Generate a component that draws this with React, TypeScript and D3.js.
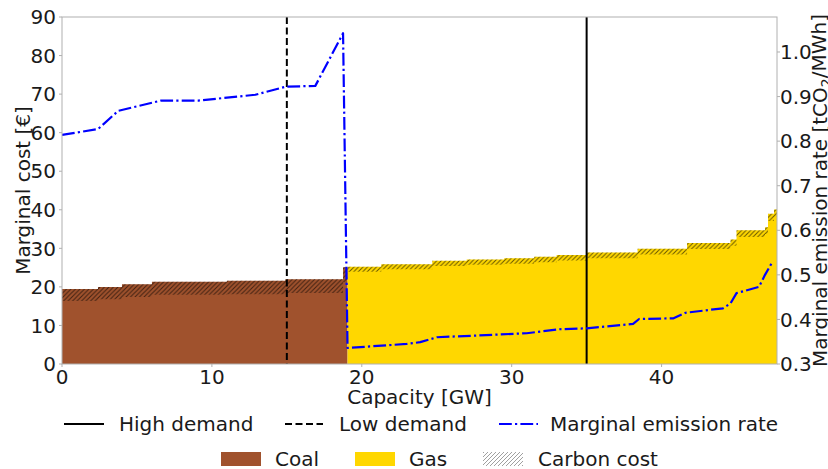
import React from "react";
import * as d3 from "d3";

// ---- Data ----
const coalStart = [0, 2.4, 4.0, 6.0, 11.0, 14.9, 18.75];
const coalEnd = 19.05;
const coalCost = [19.45, 20.0, 20.7, 21.35, 21.6, 22.0, 25.1];
const coalCarbon = [3.1, 3.2, 3.3, 3.4, 3.5, 3.6, 3.9];

const gasStart = [19.05, 21.3, 24.7, 27.0, 29.5, 31.5, 33.0, 35.0, 38.4, 41.7, 44.6, 45.0, 46.9, 47.1, 47.5];
const gasEnd = 47.7;
const gasCost = [25.2, 25.9, 26.8, 27.1, 27.4, 27.8, 28.3, 28.9, 29.9, 31.4, 32.3, 34.7, 35.5, 39.0, 40.1];
const gasCarbon = [1.3, 1.3, 1.35, 1.38, 1.38, 1.4, 1.43, 1.45, 1.52, 1.58, 1.65, 1.75, 1.8, 1.9, 2.0];

const merCapacity = [0, 2.4, 3.75, 6.6, 9.1, 12.9, 14.9, 16.9, 18.75, 19.05, 23.0, 23.9, 25.0, 27.4, 31.0, 33.2, 35.0, 38.1, 38.5, 40.8, 41.6, 44.1, 44.6, 45.0, 46.5, 46.9, 47.4];
const merValue = [0.814, 0.827, 0.868, 0.891, 0.891, 0.904, 0.922, 0.924, 1.042, 0.336, 0.345, 0.349, 0.36, 0.3635, 0.369, 0.378, 0.38, 0.39, 0.401, 0.4025, 0.415, 0.425, 0.436, 0.459, 0.473, 0.5, 0.5295];

const lowDemand = 15;
const highDemand = 35;

const xTicks = [0, 10, 20, 30, 40];
const yTicks = [0, 10, 20, 30, 40, 50, 60, 70, 80, 90];
const y2Ticks = [0.3, 0.4, 0.5, 0.6, 0.7, 0.8, 0.9, 1.0];

const COAL = "#A0522D";
const GAS = "#FFD700";
const BLUE = "#0000FF";
const TEXT = "#1a1a1a";
const SPINE = "#b0b0b0";
const FONT = "DejaVu Sans, sans-serif";

type Pt = { c: number; top: number; low: number };

export default function App() {
  const W = 828, H = 469;
  const L = 62, R = 777, T = 17, B = 364;
  const x = d3.scaleLinear().domain([0, 47.7]).range([L, R]);
  const y = d3.scaleLinear().domain([0, 90]).range([B, T]);
  const y2 = d3.scaleLinear().domain([0.3, 1.0785]).range([B, T]);

  const pts = (starts: number[], end: number, cost: number[], carbon: number[]): Pt[] => {
    const p = starts.map((s, i) => ({ c: s, top: cost[i], low: cost[i] - carbon[i] }));
    const last = p[p.length - 1];
    p.push({ c: end, top: last.top, low: last.low });
    return p;
  };

  const fillArea = d3.area<Pt>().x((d) => x(d.c)).y0(B).y1((d) => y(d.top)).curve(d3.curveStepAfter);
  const bandArea = d3.area<Pt>().x((d) => x(d.c)).y0((d) => y(d.low)).y1((d) => y(d.top)).curve(d3.curveStepAfter);

  const coalPts = pts(coalStart, coalEnd, coalCost, coalCarbon);
  const gasPts = pts(gasStart, gasEnd, gasCost, gasCarbon);

  const line = d3.line<number>().x((_, i) => x(merCapacity[i])).y((v) => y2(v));
  const merPath = line(merValue) || "";

  const fs = 20;
  const row1 = 424, row2 = 459;

  return (
    <svg width={W} height={H} style={{ position: "absolute", left: 0, top: 0 }} fontFamily={FONT}>
      <defs>
        <pattern id="hatch" patternUnits="userSpaceOnUse" width="4.5" height="4.5">
          <path d="M-1,1 l2,-2 M0,4.5 l4.5,-4.5 M3.5,5.5 l2,-2" stroke="#000" strokeOpacity="0.6" strokeWidth="1" />
        </pattern>
        <pattern id="hatchLegend" patternUnits="userSpaceOnUse" width="4" height="4">
          <path d="M-1,1 l2,-2 M0,4 l4,-4 M3,5 l2,-2" stroke="#888" strokeWidth="0.8" />
        </pattern>
        <clipPath id="plot">
          <rect x={L} y={T} width={R - L} height={B - T} />
        </clipPath>
      </defs>
      <rect x={0} y={0} width={W} height={H} fill="#fff" />

      <g clipPath="url(#plot)">
        <path d={fillArea(coalPts) || ""} fill={COAL} />
        <path d={bandArea(coalPts) || ""} fill="url(#hatch)" />
        <path d={fillArea(gasPts) || ""} fill={GAS} />
        <path d={bandArea(gasPts) || ""} fill="url(#hatch)" />
        <line x1={x(lowDemand)} x2={x(lowDemand)} y1={T} y2={B} stroke="#000" strokeWidth={2} strokeDasharray="7,3.5" />
        <line x1={x(highDemand)} x2={x(highDemand)} y1={T} y2={B} stroke="#000" strokeWidth={2} />
        <path d={merPath} fill="none" stroke={BLUE} strokeWidth={2.2} strokeDasharray="12.8,3.2,2.2,3.2" strokeLinejoin="round" />
      </g>

      {/* spines */}
      <rect x={L} y={T} width={R - L} height={B - T} fill="none" stroke={SPINE} strokeWidth={1} />

      {/* left ticks */}
      {yTicks.map((t) => (
        <g key={"y" + t}>
          <line x1={L - 3} x2={L} y1={y(t)} y2={y(t)} stroke={SPINE} />
          <text x={L - 6} y={y(t)} dy="0.36em" textAnchor="end" fontSize={fs} fill={TEXT}>{t}</text>
        </g>
      ))}
      {/* right ticks */}
      {y2Ticks.map((t) => (
        <g key={"r" + t}>
          <line x1={R} x2={R + 3} y1={y2(t)} y2={y2(t)} stroke={SPINE} />
          <text x={R + 3} y={y2(t)} dy="0.36em" textAnchor="start" fontSize={fs} fill={TEXT}>{t.toFixed(1)}</text>
        </g>
      ))}
      {/* x ticks */}
      {xTicks.map((t) => (
        <g key={"x" + t}>
          <line x1={x(t)} x2={x(t)} y1={B} y2={B + 3} stroke={SPINE} />
          <text x={x(t)} y={B + 5} dy="0.76em" textAnchor="middle" fontSize={fs} fill={TEXT}>{t}</text>
        </g>
      ))}

      {/* axis titles */}
      <text x={(L + R) / 2} y={404} textAnchor="middle" fontSize={fs} fill={TEXT}>Capacity [GW]</text>
      <text transform={`translate(30,${(T + B) / 2}) rotate(-90)`} textAnchor="middle" fontSize={fs} fill={TEXT}>Marginal cost [€]</text>
      <text transform={`translate(827,${(T + B) / 2}) rotate(-90)`} textAnchor="middle" fontSize={fs} fill={TEXT}>
        Marginal emission rate [tCO<tspan fontSize={fs * 0.7} dy="0.25em">2</tspan><tspan dy="-0.25em">/MWh]</tspan>
      </text>

      {/* legend row 1 */}
      <line x1={64} x2={104} y1={row1} y2={row1} stroke="#000" strokeWidth={2} />
      <text x={119} y={row1} dy="0.36em" fontSize={fs} fill={TEXT}>High demand</text>
      <line x1={285} x2={323} y1={row1} y2={row1} stroke="#000" strokeWidth={2} strokeDasharray="7,3.5" />
      <text x={339} y={row1} dy="0.36em" fontSize={fs} fill={TEXT}>Low demand</text>
      <line x1={499} x2={538} y1={row1} y2={row1} stroke={BLUE} strokeWidth={2.2} strokeDasharray="12.8,3.2,2.2,3.2" />
      <text x={550} y={row1} dy="0.36em" fontSize={fs} fill={TEXT}>Marginal emission rate</text>

      {/* legend row 2 */}
      <rect x={221} y={row2 - 7} width={40} height={14} fill={COAL} />
      <text x={275} y={row2} dy="0.36em" fontSize={fs} fill={TEXT}>Coal</text>
      <rect x={355} y={row2 - 7} width={40} height={14} fill={GAS} />
      <text x={409} y={row2} dy="0.36em" fontSize={fs} fill={TEXT}>Gas</text>
      <rect x={483} y={row2 - 7} width={40} height={14} fill="url(#hatchLegend)" />
      <text x={538} y={row2} dy="0.36em" fontSize={fs} fill={TEXT}>Carbon cost</text>
    </svg>
  );
}
